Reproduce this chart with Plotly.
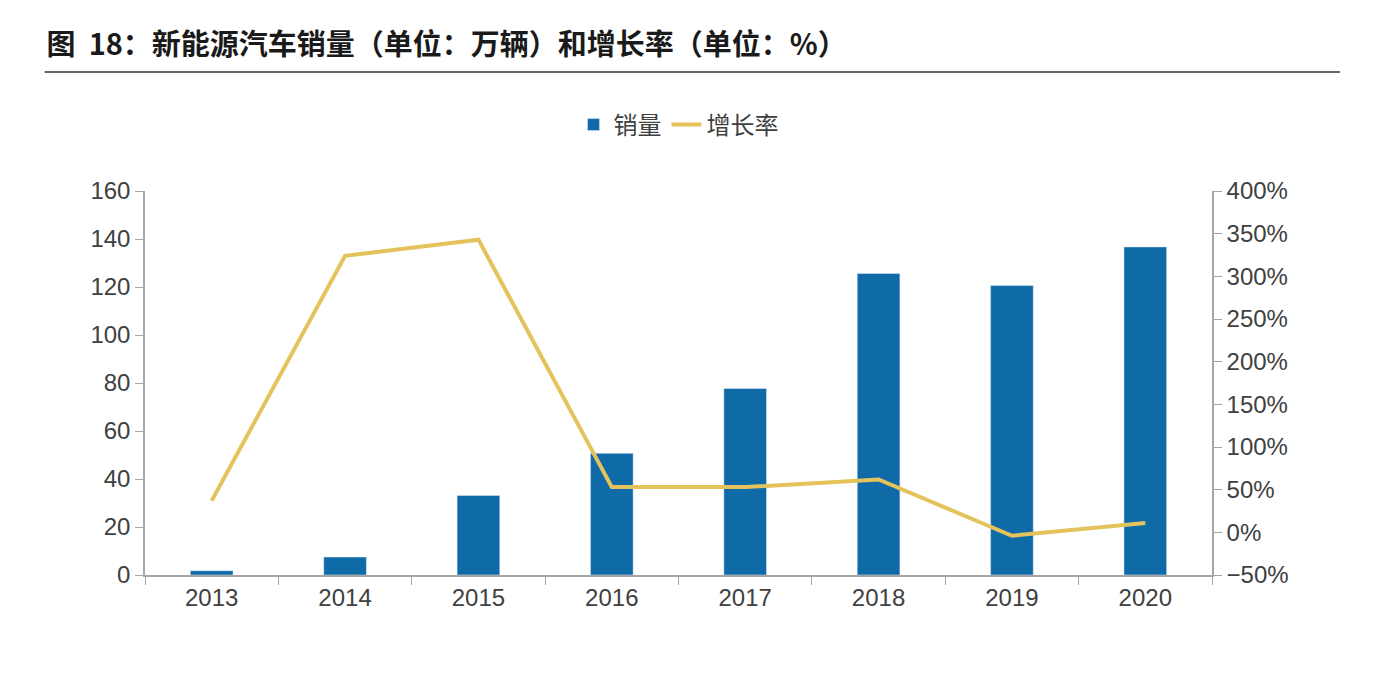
import plotly.graph_objects as go

YEARS = ["2013", "2014", "2015", "2016", "2017", "2018", "2019", "2020"]
SALES = [1.8, 7.5, 33.1, 50.7, 77.7, 125.6, 120.6, 136.7]
GROWTH = [37, 324, 343, 53, 53, 62, -4, 11]

FONT = "Liberation Sans, Arial, Noto Sans CJK SC"
AXIS_GRAY = "#a6a6a6"

fig = go.Figure()
fig.add_trace(go.Bar(x=YEARS, y=SALES, name="销量", marker_color="#0f6aa8", width=0.32))
fig.add_trace(go.Scatter(x=YEARS, y=GROWTH, name="增长率", yaxis="y2", mode="lines",
                         line=dict(color="#e5c35c", width=4)))

fig.update_layout(
    width=1374, height=676,
    margin=dict(l=137, r=170, t=183, b=109),
    plot_bgcolor="white", paper_bgcolor="white",
    font=dict(family=FONT, size=24, color="#404040"),
    title=dict(text="<b>图  18：新能源汽车销量（单位：万辆）和增长率（单位：%）</b>",
               x=0.028, xanchor="left", y=0.945, yanchor="middle",
               font=dict(size=29, color="#1a1a1a", family="Noto Sans CJK SC")),
    legend=dict(orientation="h", x=0.5, xanchor="center", y=1.172, yanchor="middle",
                font=dict(size=24, color="#404040", family="Noto Sans CJK SC"),
                bgcolor="rgba(0,0,0,0)"),
    bargap=0.5,
    xaxis=dict(showline=True, linecolor=AXIS_GRAY, linewidth=1.5, ticks="outside",
               tickson="boundaries", tickcolor=AXIS_GRAY, ticklen=8, showgrid=False),
    yaxis=dict(range=[0, 160], dtick=20, showline=True, linecolor=AXIS_GRAY, linewidth=1.5,
               ticks="outside", tickcolor=AXIS_GRAY, ticklen=8, showgrid=False, zeroline=False),
    yaxis2=dict(range=[-50, 400], dtick=50, overlaying="y", side="right", ticksuffix="%",
                showline=True, linecolor=AXIS_GRAY, linewidth=1.5, ticks="outside",
                tickcolor=AXIS_GRAY, ticklen=8, showgrid=False, zeroline=False),
    shapes=[dict(type="line", xref="paper", yref="paper", x0=-0.094, x1=1.12,
                 y0=1.31, y1=1.31, line=dict(color="#333333", width=1.5))],
)

fig.write_html("out.html")
